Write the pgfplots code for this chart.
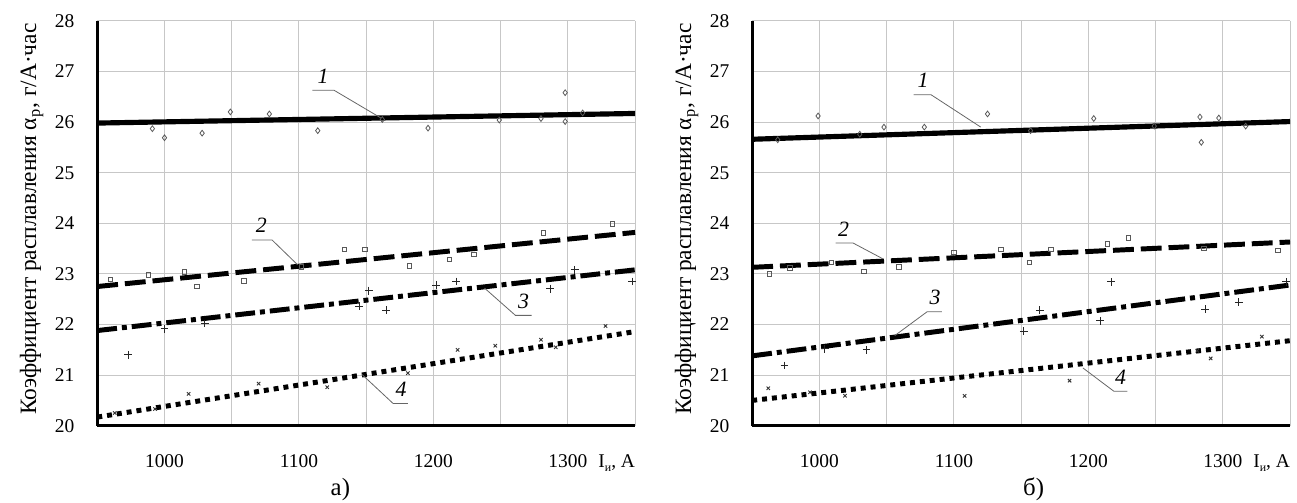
\documentclass[border=0pt]{standalone}
\usepackage{pgfplots}
\pgfplotsset{compat=1.18}
\usepackage{fontspec}
\setmainfont{Liberation Serif}
\begin{document}
\tikzset{
  lead/.style={black!60, line width=0.4pt},
  lab/.style={font=\fontsize{11}{13}\selectfont\itshape},
}
\pgfplotsset{
  mystyle/.style={
    scale only axis, width=271pt, height=204pt,
    xmin=950, xmax=1350, ymin=20, ymax=28,
    xtick={950,1000,...,1350}, xticklabels={,1000,,1100,,1200,,1300,},
    ytick={20,...,28},
    grid=major, grid style={black!22, line width=0.55pt},
    axis x line=bottom, axis y line=left,
    axis line style={line width=1.4pt, -},
    major tick length=0pt,
    tick label style={font=\fontsize{9.8}{12}\selectfont},
    xticklabel style={yshift=-11pt},
    yticklabel style={xshift=-8pt},
    /pgf/number format/assume math mode=true,
    clip=false,
    every axis y label/.style={at={(axis description cs:-0.122,0.51)},rotate=90,anchor=center,font=\fontsize{11.8}{13}\selectfont},
    every axis x label/.style={at={(axis description cs:1,0)},anchor=north east,xshift=3.5pt,yshift=-11pt,font=\fontsize{9.8}{12}\selectfont},
    ylabel={Коэффициент расплавления α\textsubscript{р}, г/А·час},
    xlabel={I{\fontsize{6}{7}\selectfont\raisebox{-2pt}{и}}, A},
  },
  l1/.style={black, line width=2.6pt, no marks},
  l2/.style={black, line width=2.5pt, no marks, dash pattern=on 10.5pt off 3.5pt},
  l3/.style={black, line width=2.5pt, no marks, dash pattern=on 10pt off 2.5pt on 2.5pt off 2.5pt},
  l4/.style={black, line width=2.5pt, no marks, dash pattern=on 2.5pt off 2.5pt},
  m1/.style={only marks, mark=diamond, mark size=1.45pt, mark options={draw=black!65, fill=white, line width=0.4pt}},
  m2/.style={only marks, mark=square, mark size=1.1pt, mark options={draw=black!65, fill=white, line width=0.4pt}},
  m3/.style={only marks, mark=+, mark size=2pt, mark options={draw=black!85, line width=0.5pt}},
  m4/.style={only marks, mark=x, mark size=1.2pt, mark options={draw=black!80, line width=0.45pt}},
}
\begin{tikzpicture}
% ---------------- panel a
\begin{axis}[mystyle, at={(44pt,38.5pt)}, anchor=south west]
\addplot[l1] coordinates {(950,25.98) (1350,26.17)};
\addplot[l2] coordinates {(950,22.75) (1350,23.82)};
\addplot[l3] coordinates {(950,21.88) (1350,23.08)};
\addplot[l4] coordinates {(950,20.17) (1350,21.86)};
\addplot[m1] coordinates {(991,25.87) (1000,25.69) (1028,25.78) (1049,26.20) (1078,26.16) (1114,25.83) (1162,26.05) (1196,25.88) (1249,26.04) (1280,26.07) (1298,26.58) (1298,26.01) (1311,26.18)};
\addplot[m2] coordinates {(960,22.89) (988,22.98) (1015,23.04) (1024,22.75) (1059,22.86) (1102,23.14) (1134,23.49) (1149,23.49) (1182,23.16) (1212,23.29) (1230,23.39) (1282,23.81) (1333,23.99)};
\addplot[m3] coordinates {(973,21.40) (1000,21.92) (1030,22.02) (1145,22.36) (1152,22.67) (1165,22.28) (1202,22.78) (1217,22.85) (1287,22.71) (1305,23.08) (1348,22.85)};
\addplot[m4] coordinates {(963,20.25) (993,20.33) (1018,20.63) (1070,20.83) (1121,20.76) (1181,21.04) (1218,21.50) (1246,21.58) (1280,21.70) (1291,21.55) (1328,21.97)};
\draw[lead] (axis cs:1110,26.63) -- (axis cs:1126,26.63) -- (axis cs:1161,26.08);
\node[lab, anchor=south] at (axis cs:1118,26.63) {1};
\draw[lead] (axis cs:1065,23.67) -- (axis cs:1080,23.67) -- (axis cs:1099,23.18);
\node[lab, anchor=south] at (axis cs:1072,23.67) {2};
\draw[lead] (axis cs:1273,22.18) -- (axis cs:1261,22.18) -- (axis cs:1238,22.72);
\node[lab, anchor=south] at (axis cs:1267,22.18) {3};
\draw[lead] (axis cs:1181,20.44) -- (axis cs:1170,20.44) -- (axis cs:1147,21.01);
\node[lab, anchor=south] at (axis cs:1176,20.44) {4};
\end{axis}
% ---------------- panel b
\begin{axis}[mystyle, at={(374pt,38.5pt)}, anchor=south west]
\addplot[l1] coordinates {(950,25.66) (1350,26.01)};
\addplot[l2] coordinates {(950,23.13) (1350,23.63)};
\addplot[l3] coordinates {(950,21.38) (1350,22.78)};
\addplot[l4] coordinates {(950,20.50) (1350,21.68)};
\addplot[m1] coordinates {(969,25.65) (999,26.12) (1030,25.76) (1048,25.90) (1078,25.90) (1125,26.16) (1157,25.83) (1204,26.07) (1249,25.92) (1283,26.10) (1284,25.60) (1297,26.08) (1317,25.92)};
\addplot[m2] coordinates {(963,23.00) (978,23.12) (1009,23.23) (1033,23.05) (1059,23.14) (1100,23.42) (1135,23.49) (1156,23.23) (1172,23.49) (1214,23.59) (1230,23.71) (1286,23.50) (1341,23.47)};
\addplot[m3] coordinates {(974,21.19) (1004,21.52) (1035,21.50) (1152,21.87) (1164,22.28) (1209,22.07) (1217,22.84) (1287,22.30) (1312,22.44) (1347,22.84)};
\addplot[m4] coordinates {(962,20.74) (993,20.66) (1019,20.59) (1108,20.59) (1186,20.89) (1281,21.48) (1291,21.33) (1329,21.76)};
\draw[lead] (axis cs:1070,26.54) -- (axis cs:1083,26.54) -- (axis cs:1120,25.90);
\node[lab, anchor=south] at (axis cs:1077,26.54) {1};
\draw[lead] (axis cs:1012,23.61) -- (axis cs:1025,23.61) -- (axis cs:1047,23.30);
\node[lab, anchor=south] at (axis cs:1018,23.61) {2};
\draw[lead] (axis cs:1091,22.25) -- (axis cs:1080,22.25) -- (axis cs:1056,21.78);
\node[lab, anchor=south] at (axis cs:1086,22.25) {3};
\draw[lead] (axis cs:1229,20.68) -- (axis cs:1219,20.68) -- (axis cs:1196,21.14);
\node[lab, anchor=south] at (axis cs:1224,20.68) {4};
\end{axis}
\node[font=\fontsize{12.5}{15}\selectfont] at (166.5pt,6.5pt) {а)};
\node[font=\fontsize{12.5}{15}\selectfont] at (515.8pt,6.5pt) {б)};
\pgfresetboundingbox
\useasboundingbox (0,0) rectangle (648.5pt,253pt);
\end{tikzpicture}
\end{document}
